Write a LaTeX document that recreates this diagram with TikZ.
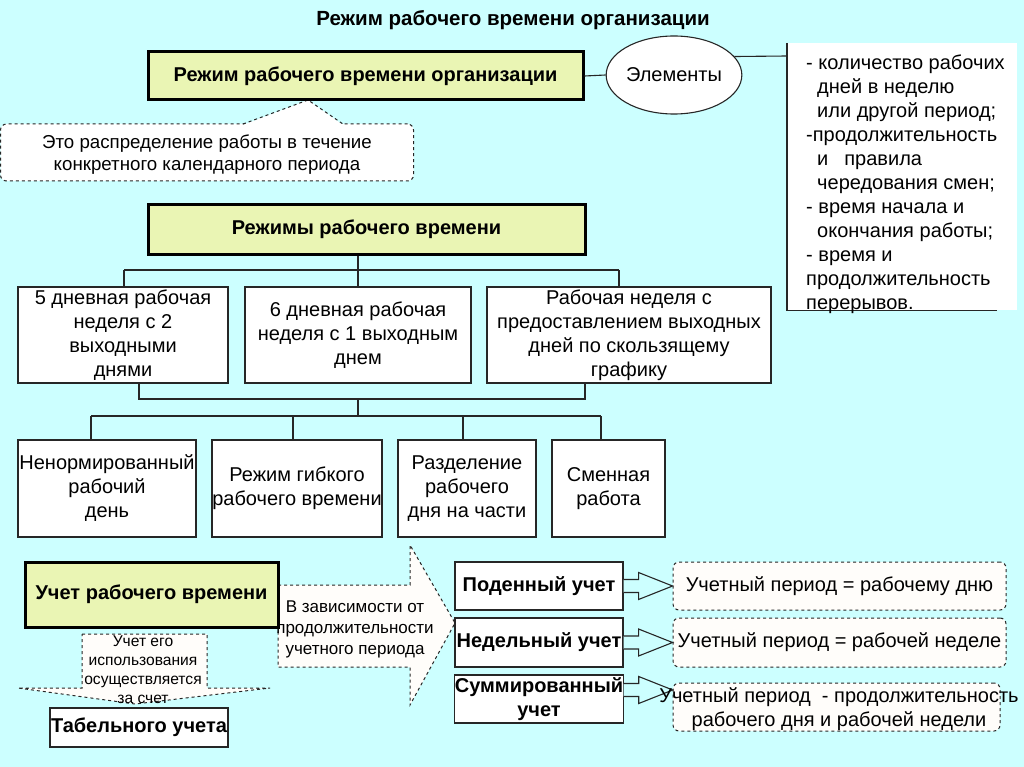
\documentclass[tikz,border=0pt]{standalone}
\usepackage{fontspec}
\setmainfont{Liberation Sans}
\usetikzlibrary{shapes.geometric,calc}
\definecolor{bgc}{RGB}{204,255,255}
\definecolor{hdr}{RGB}{234,245,180}
\definecolor{paper}{RGB}{255,253,250}
\begin{document}
\begin{tikzpicture}[x=1pt,y=-1pt,
  txt/.style={font=\fontsize{20}{24}\selectfont},
  hdrbox/.style={draw=black, line width=3pt, fill=hdr, inner sep=0pt, align=center, font=\fontsize{20}{24}\selectfont\bfseries},
  wbox/.style={draw=black!85, line width=1.1pt, fill=white, inner sep=0pt, align=center, font=\fontsize{20}{24}\selectfont},
  bbox/.style={wbox, font=\fontsize{20}{24}\selectfont\bfseries},
  dbox/.style={draw=black!85, dashed, line width=1pt, rounded corners=6pt, fill=paper, inner sep=0pt, align=center, font=\fontsize{20}{24}\selectfont},
  dasharrow/.style={draw=black!85, dashed, line width=1pt, fill=paper},
  tline/.style={draw=black!85, line width=1.1pt},
  oarrow/.style={draw=black!85, line width=1.1pt, fill=bgc}
]
\fill[bgc] (0,0) rectangle (1024,767);
\useasboundingbox (0,0) rectangle (1024,767);

% title
\node[font=\fontsize{20.5}{24}\selectfont\bfseries] (title) at (513,20) {Режим рабочего времени организации};

% callout
\node[dbox, fill=white, minimum width=413pt, minimum height=57pt] (co) at (207,152.5) {};
\coordinate (ptip) at (308,100);
\fill[white] (243,125) -- (ptip) -- (343,125) -- cycle;
\draw[dashed, draw=black!85, line width=1pt] (243,124) -- (ptip) -- (343,124);
\node[font=\fontsize{18.7}{22}\selectfont, align=center, inner sep=0pt] (cotxt) at (207,155) {Это распределение работы в течение\\конкретного календарного периода};

% header A
\node[hdrbox, minimum width=435pt, minimum height=48pt] (A) at (365.5,76) {Режим рабочего времени организации};

% ellipse and panel
\node[draw=black!85, line width=1.1pt, ellipse, fill=white, minimum width=128pt, minimum height=78pt, inner sep=0pt, txt] (el) at (674,75) {Элементы};
\draw[tline] (A.east) -- (el.west);
\node[fill=white, minimum width=230pt, minimum height=267pt, inner sep=0pt, anchor=north west] (panel) at (787,43) {};
\draw[tline] (panel.north west) -- (panel.south west) -- ++(210,0);
\draw[tline] (el.17) -- ($(panel.north west)+(0,13)$);
\node[anchor=north west, align=left, inner sep=0pt, txt] (ptext) at (806,55) {%
- количество рабочих\\
\hspace*{11pt}дней в неделю\\
\hspace*{11pt}или другой период;\\
-продолжительность\\
\hspace*{11pt}и\hspace{16pt}правила\\
\hspace*{11pt}чередования смен;\\
- время начала и\\
\hspace*{11pt}окончания работы;\\
- время и\\
продолжительность\\
перерывов.};

% header B
\node[hdrbox, minimum width=437pt, minimum height=49pt] (B) at (366.5,229.5) {Режимы рабочего времени};

% row 1
\node[wbox, minimum width=210pt, minimum height=96pt] (C1) at (123,335) {5 дневная рабочая\\неделя с 2\\выходными\\ днями};
\node[wbox, minimum width=226pt, minimum height=96pt] (C2) at (358,335) {6 дневная рабочая\\неделя с 1 выходным\\днем};
\node[wbox, minimum width=284pt, minimum height=96pt] (C3) at (629,335) {Рабочая неделя с\\предоставлением выходных\\дней по скользящему\\графику};

% row 2
\node[wbox, minimum width=178pt, minimum height=97pt] (D1) at (107,488.5) {Ненормированный\\рабочий\\день};
\node[wbox, minimum width=170pt, minimum height=97pt] (D2) at (297,488.5) {Режим гибкого\\рабочего времени};
\node[wbox, minimum width=138pt, minimum height=97pt] (D3) at (467,488.5) {Разделение\\рабочего\\дня на части};
\node[wbox, minimum width=113pt, minimum height=97pt] (D4) at (608.5,488.5) {Сменная\\работа};

% tree lines
\coordinate (t1) at (124,270);
\coordinate (b1) at (358,270);
\coordinate (t3) at (619,270);
\draw[tline] (B.south -| b1) -- (b1);
\draw[tline] (t1) -- (t3);
\draw[tline] (t1) -- (t1 |- C1.north);
\draw[tline] (b1) -- (b1 |- C2.north);
\draw[tline] (t3) -- (t3 |- C3.north);
\coordinate (u1) at (139,399);
\coordinate (u2) at (358,399);
\coordinate (u3) at (585,399);
\coordinate (v1) at (91,416);
\coordinate (v2) at (358,416);
\coordinate (w2) at (293,416);
\coordinate (w3) at (463,416);
\coordinate (v4) at (601,416);
\draw[tline] (u1 |- C1.south) -- (u1) -- (u3) -- (u3 |- C3.south);
\draw[tline] (u2) -- (v2);
\draw[tline] (v1) -- (v4);
\draw[tline] (v1) -- (v1 |- D1.north);
\draw[tline] (w2) -- (w2 |- D2.north);
\draw[tline] (w3) -- (w3 |- D3.north);
\draw[tline] (v4) -- (v4 |- D4.north);

% bottom left
\draw[dasharrow] (278,585) -- (410,585) -- (410,545) -- (455,623) -- (410,705) -- (410,667) -- (278,667) -- cycle;
\node[font=\fontsize{17}{21}\selectfont, align=center, inner sep=0pt] (rtxt) at (355,629) {В зависимости от\\продолжительности\\учетного периода};
\draw[dasharrow] (82,634) -- (207,634) -- (207,688) -- (270,688) -- (135,704) -- (18,688) -- (82,688) -- cycle;
\node[font=\fontsize{15.6}{19}\selectfont, align=center, inner sep=0pt] (dtxt) at (143,670) {Учет его\\использования\\осуществляется\\за счет};
\node[hdrbox, minimum width=253pt, minimum height=65pt] (E) at (151.5,594.5) {Учет рабочего времени};
\node[bbox, minimum width=178pt, minimum height=39pt] (F) at (139,727.5) {Табельного учета};

% right side
\node[bbox, minimum width=168pt, minimum height=48pt] (G1) at (539,586) {Поденный учет};
\node[bbox, minimum width=168pt, minimum height=49pt] (G2) at (539,642.5) {Недельный учет};
\node[bbox, minimum width=168pt, minimum height=48pt] (G3) at (539,699) {Суммированный\\учет};

\node[dbox, minimum width=333pt, minimum height=48pt] (H1) at (839.5,586) {Учетный период = рабочему дню};
\node[dbox, minimum width=333pt, minimum height=49pt] (H2) at (839.5,642.5) {Учетный период = рабочей неделе};
\node[dbox, minimum width=327pt, minimum height=48pt] (H3) at (836.5,707) {};

\draw[oarrow] ($(G1.east)+(0,-6.5)$) -- ++(15,0) -- ++(0,-7) -- ++(34,13.5) -- ++(-34,13.5) -- ++(0,-7) -- ++(-15,0);
\draw[oarrow] ($(G2.east)+(0,-6.5)$) -- ++(15,0) -- ++(0,-7) -- ++(34,13.5) -- ++(-34,13.5) -- ++(0,-7) -- ++(-15,0);
\draw[oarrow] ($(G3.east)+(0,-15.5)$) -- ++(15,0) -- ++(0,-7) -- ++(34,13.5) -- ++(-34,13.5) -- ++(0,-7) -- ++(-15,0);
\node[txt, align=center, inner sep=0pt] (h3txt) at (839,709) {Учетный период\ \ - продолжительность\\рабочего дня и рабочей недели};
\end{tikzpicture}
\end{document}
